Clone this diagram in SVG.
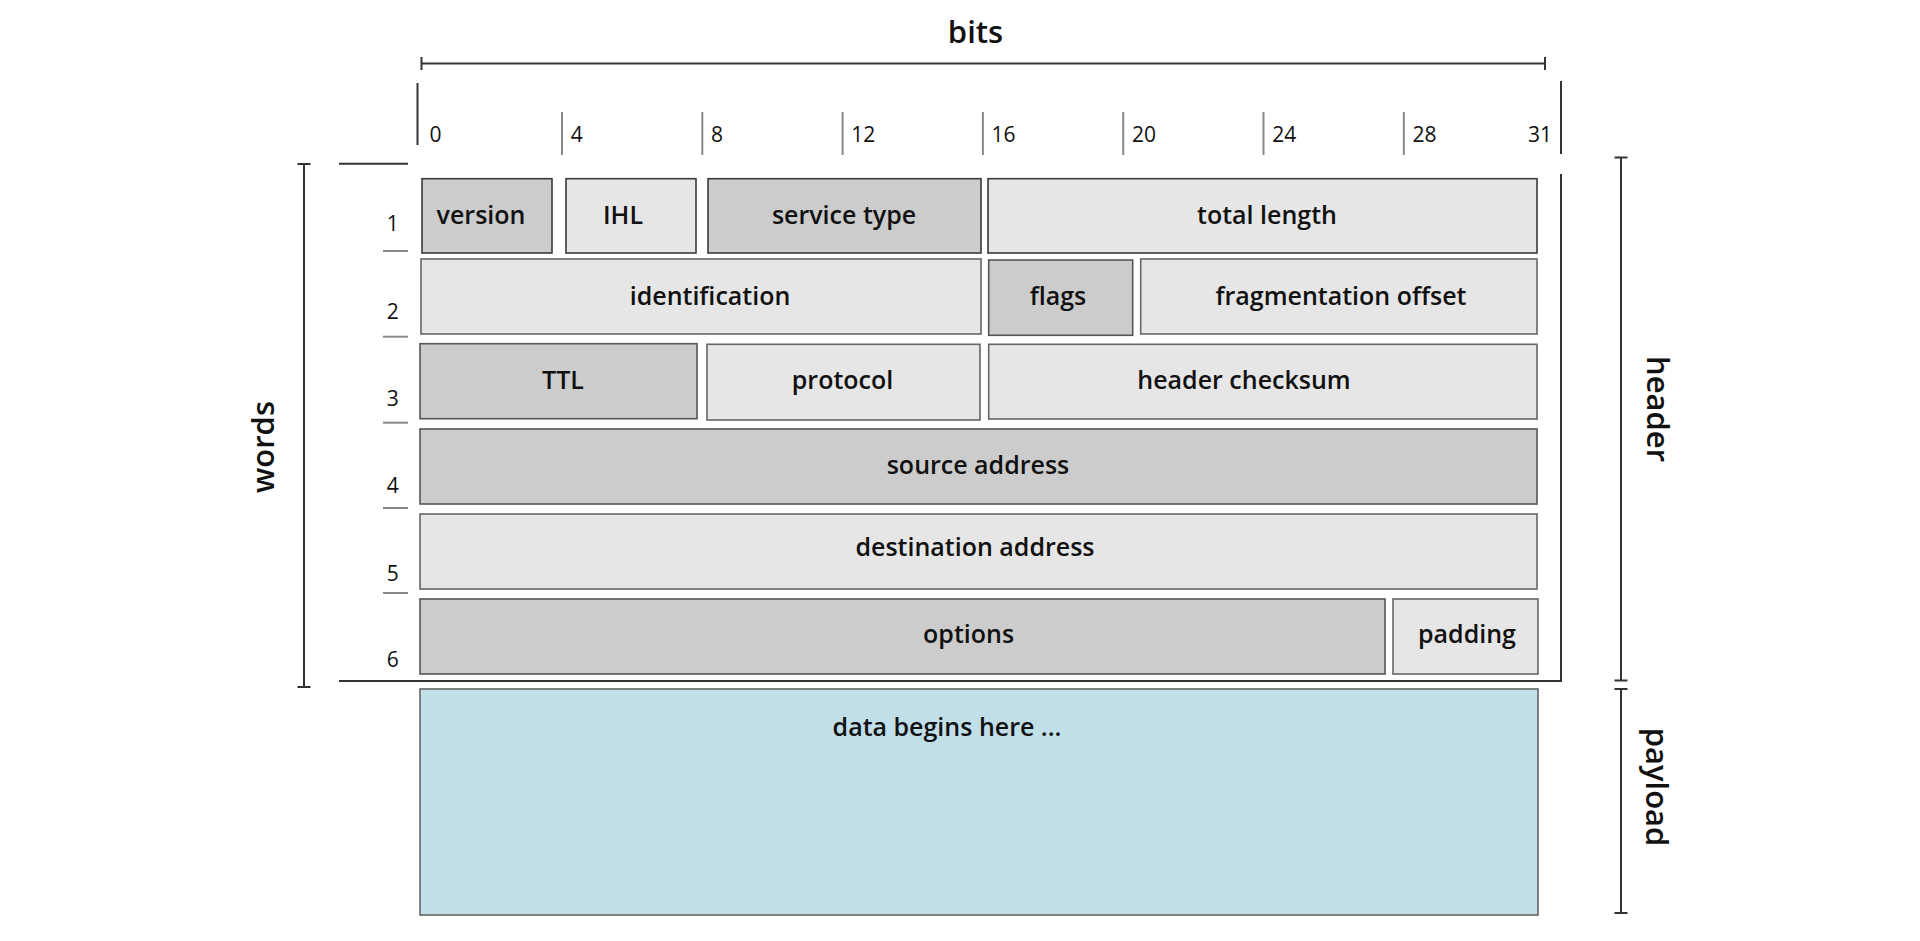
<svg xmlns="http://www.w3.org/2000/svg" width="1920" height="941" viewBox="0 0 1920 941">
<style>
  .bg{fill:#ffffff}
  .frame{stroke:#333333;stroke-width:2;fill:none}
  .tick{stroke:#888888;stroke-width:2;fill:none}
  .dark{fill:#cccccc;stroke:#555555;stroke-width:1.6}
  .light{fill:#e6e6e6;stroke:#666666;stroke-width:1.6}
  .r1{stroke:#3a3a3a}
  .pay{fill:#c1dfe9;stroke:#666666;stroke-width:1.6}
  .lbl{font-family:"Open Sans","Noto Sans","Liberation Sans",sans-serif;font-weight:600;font-size:25px;fill:#111111;text-anchor:middle}
  .axis{font-family:"Open Sans","Noto Sans","Liberation Sans",sans-serif;font-weight:600;font-size:31px;fill:#111111;text-anchor:middle}
  .num{font-family:"Open Sans","Noto Sans","Liberation Sans",sans-serif;font-weight:400;font-size:21px;fill:#111111}
</style>
<rect class="bg" x="0" y="0" width="1920" height="941"/>

<g id="connectors">
  <!-- bits dimension -->
  <line class="frame" x1="421.5" y1="63.5" x2="1545" y2="63.5"/>
  <line class="frame" x1="421.5" y1="57" x2="421.5" y2="70"/>
  <line class="frame" x1="1545" y1="57" x2="1545" y2="70"/>
  <!-- header frame -->
  <line class="frame" x1="417.5" y1="83" x2="417.5" y2="145"/>
  <line class="frame" x1="1561" y1="81" x2="1561" y2="154"/>
  <line class="frame" x1="1561" y1="174" x2="1561" y2="681"/>
  <line class="frame" x1="339" y1="163.7" x2="408" y2="163.7"/>
  <line class="frame" x1="339" y1="681" x2="1562" y2="681"/>
  <!-- bit ticks -->
  <line class="tick" x1="562" y1="112" x2="562" y2="155"/>
  <line class="tick" x1="702.3" y1="112" x2="702.3" y2="155"/>
  <line class="tick" x1="842.6" y1="112" x2="842.6" y2="155"/>
  <line class="tick" x1="982.9" y1="112" x2="982.9" y2="155"/>
  <line class="tick" x1="1123.2" y1="112" x2="1123.2" y2="155"/>
  <line class="tick" x1="1263.5" y1="112" x2="1263.5" y2="155"/>
  <line class="tick" x1="1403.8" y1="112" x2="1403.8" y2="155"/>
  <!-- word dashes -->
  <line class="tick" x1="383" y1="251" x2="408" y2="251"/>
  <line class="tick" x1="383" y1="336.7" x2="408" y2="336.7"/>
  <line class="tick" x1="383" y1="422.7" x2="408" y2="422.7"/>
  <line class="tick" x1="383" y1="508" x2="408" y2="508"/>
  <line class="tick" x1="383" y1="593" x2="408" y2="593"/>
  <!-- words bracket -->
  <line class="frame" x1="304" y1="164" x2="304" y2="687"/>
  <line class="frame" x1="297.5" y1="164" x2="310.5" y2="164"/>
  <line class="frame" x1="297.5" y1="687" x2="310.5" y2="687"/>
  <!-- header bracket -->
  <line class="frame" x1="1621" y1="157.5" x2="1621" y2="680.5"/>
  <line class="frame" x1="1614.5" y1="157.5" x2="1627.5" y2="157.5"/>
  <line class="frame" x1="1614.5" y1="680.5" x2="1627.5" y2="680.5"/>
  <!-- payload bracket -->
  <line class="frame" x1="1621" y1="689" x2="1621" y2="913"/>
  <line class="frame" x1="1614.5" y1="689" x2="1627.5" y2="689"/>
  <line class="frame" x1="1614.5" y1="913" x2="1627.5" y2="913"/>
</g>

<g id="axis-labels">
  <text class="axis" x="975.5" y="43.3">bits</text>
  <text class="axis" transform="translate(274,447) rotate(-90)">words</text>
  <text class="axis" transform="translate(1647,409) rotate(90)">header</text>
  <text class="axis" transform="translate(1646,787) rotate(90)">payload</text>
</g>

<g id="bit-numbers">
  <text class="num" x="429.5" y="141.7">0</text>
  <text class="num" x="570.7" y="141.7">4</text>
  <text class="num" x="711" y="141.7">8</text>
  <text class="num" x="851.3" y="141.7">12</text>
  <text class="num" x="991.6" y="141.7">16</text>
  <text class="num" x="1131.9" y="141.7">20</text>
  <text class="num" x="1272.2" y="141.7">24</text>
  <text class="num" x="1412.5" y="141.7">28</text>
  <text class="num" x="1552" y="141.7" text-anchor="end">31</text>
</g>

<g id="word-numbers">
  <text class="num" x="392.7" y="231" text-anchor="middle">1</text>
  <text class="num" x="392.7" y="318.5" text-anchor="middle">2</text>
  <text class="num" x="392.7" y="405.7" text-anchor="middle">3</text>
  <text class="num" x="392.7" y="492.5" text-anchor="middle">4</text>
  <text class="num" x="392.7" y="580.5" text-anchor="middle">5</text>
  <text class="num" x="392.7" y="667" text-anchor="middle">6</text>
</g>

<g id="version"><rect class="dark r1" x="422" y="178.7" width="130" height="74.3"/><text class="lbl" x="481" y="224">version</text></g>
<g id="ihl"><rect class="light r1" x="566" y="178.7" width="130" height="74.3"/><text class="lbl" x="623" y="224">IHL</text></g>
<g id="service-type"><rect class="dark r1" x="708" y="178.7" width="273" height="74.3"/><text class="lbl" x="844" y="224">service type</text></g>
<g id="total-length"><rect class="light r1" x="988" y="178.7" width="549" height="74.3"/><text class="lbl" x="1267" y="224">total length</text></g>

<g id="identification"><rect class="light" x="421" y="259" width="560" height="75"/><text class="lbl" x="710" y="304.5">identification</text></g>
<g id="flags"><rect class="dark" x="988.7" y="260" width="144" height="75.3"/><text class="lbl" x="1058" y="304.5">flags</text></g>
<g id="fragmentation-offset"><rect class="light" x="1140.7" y="259" width="396.3" height="75"/><text class="lbl" x="1341" y="304.5">fragmentation offset</text></g>

<g id="ttl"><rect class="dark" x="420" y="343.7" width="277" height="75"/><text class="lbl" x="563" y="388.5">TTL</text></g>
<g id="protocol"><rect class="light" x="707" y="344.3" width="273" height="75.7"/><text class="lbl" x="842.5" y="388.5">protocol</text></g>
<g id="header-checksum"><rect class="light" x="988.7" y="344.3" width="548.3" height="74.7"/><text class="lbl" x="1244" y="388.5">header checksum</text></g>

<g id="source-address"><rect class="dark" x="420" y="429" width="1117" height="75"/><text class="lbl" x="978" y="474">source address</text></g>
<g id="destination-address"><rect class="light" x="420" y="514" width="1117" height="75"/><text class="lbl" x="975" y="556">destination address</text></g>

<g id="options"><rect class="dark" x="420" y="599" width="965" height="75"/><text class="lbl" x="968.6" y="643">options</text></g>
<g id="padding"><rect class="light" x="1393" y="599" width="145" height="75"/><text class="lbl" x="1467" y="643">padding</text></g>

<g id="payload-data"><rect class="pay" x="420" y="689" width="1118" height="226"/><text class="lbl" x="947" y="736">data begins here ...</text></g>
</svg>
